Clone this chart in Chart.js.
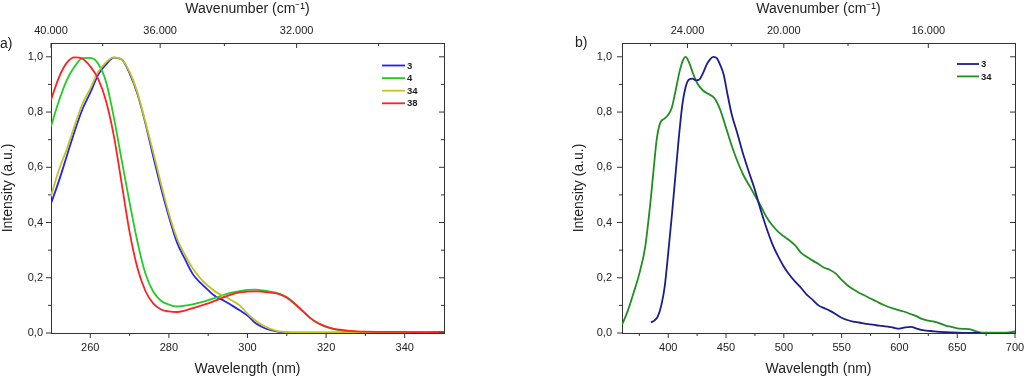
<!DOCTYPE html>
<html>
<head>
<meta charset="utf-8">
<script src="https://cdn.jsdelivr.net/npm/chart.js@4.4.1/dist/chart.umd.min.js"></script>
<style>
  html, body { margin: 0; padding: 0; background: #fff; }
  #wrap { position: relative; width: 1024px; height: 378px; overflow: hidden; }
  canvas { position: absolute; top: 0; }
</style>
</head>
<body>
<div id="wrap">
  <canvas id="chartA" width="512" height="378" style="left:0"></canvas>
  <canvas id="chartB" width="512" height="378" style="left:512px"></canvas>
</div>
<script>
// a) absorption spectra
const absWl = [250, 252, 254, 256, 258, 260, 262, 264, 266, 268, 270, 272, 274, 276, 278, 280, 282, 284, 286, 288, 290, 292, 294, 296, 298, 300, 302, 304, 306, 308, 310, 312, 314, 316, 318, 320, 322, 324, 326, 328, 330, 335, 340, 345, 350];
const absInt3 = [0.469, 0.55, 0.64, 0.73, 0.81, 0.87, 0.935, 0.972, 0.997, 0.99, 0.94, 0.865, 0.76, 0.64, 0.525, 0.421, 0.33, 0.27, 0.215, 0.182, 0.155, 0.131, 0.117, 0.1, 0.082, 0.063, 0.036, 0.02, 0.01, 0.004, 0.002, 0.001, 0.001, 0.001, 0.001, 0.001, 0.001, 0.001, 0.001, 0.001, 0.001, 0.001, 0.001, 0.001, 0.001];
const absInt4 = [0.748, 0.84, 0.915, 0.965, 0.995, 0.996, 0.975, 0.91, 0.78, 0.625, 0.472, 0.33, 0.216, 0.15, 0.117, 0.103, 0.096, 0.099, 0.104, 0.111, 0.119, 0.128, 0.138, 0.146, 0.152, 0.156, 0.157, 0.154, 0.149, 0.143, 0.13, 0.107, 0.08, 0.054, 0.035, 0.022, 0.014, 0.009, 0.006, 0.004, 0.003, 0.001, 0.001, 0.001, 0.001];
const absInt34 = [0.495, 0.59, 0.665, 0.75, 0.83, 0.885, 0.945, 0.98, 0.998, 0.99, 0.945, 0.87, 0.765, 0.655, 0.54, 0.433, 0.345, 0.285, 0.235, 0.198, 0.17, 0.148, 0.134, 0.118, 0.1, 0.07, 0.045, 0.027, 0.014, 0.006, 0.003, 0.001, 0.001, 0.001, 0.001, 0.001, 0.001, 0.001, 0.001, 0.001, 0.001, 0.001, 0.001, 0.001, 0.001];
const absInt38 = [0.844, 0.925, 0.978, 0.998, 0.993, 0.965, 0.92, 0.84, 0.713, 0.54, 0.365, 0.235, 0.153, 0.107, 0.085, 0.078, 0.076, 0.081, 0.09, 0.098, 0.107, 0.118, 0.13, 0.14, 0.147, 0.15, 0.151, 0.149, 0.146, 0.141, 0.128, 0.106, 0.08, 0.054, 0.035, 0.023, 0.015, 0.011, 0.008, 0.006, 0.005, 0.004, 0.004, 0.003, 0.004];

// b) emission spectra
const emWl3 = [385, 388, 391, 394, 397, 400, 403, 406, 409, 412, 415, 418, 421, 424, 427, 430, 433, 436, 439, 442, 445, 448, 451, 455, 460, 465, 470, 475, 480, 485, 490, 495, 500, 505, 510, 515, 520, 525, 530, 535, 540, 545, 550, 555, 560, 565, 570, 575, 580, 585, 590, 595, 600, 605, 610, 615, 620, 625, 630, 640, 650, 660, 670];
const emInt3 = [0.038, 0.045, 0.06, 0.1, 0.17, 0.29, 0.42, 0.56, 0.7, 0.82, 0.89, 0.918, 0.921, 0.915, 0.918, 0.94, 0.97, 0.99, 1.0, 0.995, 0.97, 0.935, 0.87, 0.79, 0.72, 0.645, 0.58, 0.518, 0.445, 0.38, 0.323, 0.278, 0.24, 0.21, 0.185, 0.163, 0.138, 0.12, 0.1, 0.09, 0.08, 0.068, 0.055, 0.047, 0.041, 0.038, 0.034, 0.031, 0.028, 0.026, 0.023, 0.019, 0.016, 0.02, 0.022, 0.016, 0.01, 0.008, 0.006, 0.003, 0.001, 0, 0];
const emWl34 = [360, 365, 370, 375, 380, 385, 388, 390, 393, 397, 400, 403, 406, 410, 413, 415, 418, 421, 425, 430, 435, 440, 445, 450, 455, 460, 465, 470, 475, 480, 485, 490, 495, 500, 505, 510, 515, 520, 525, 530, 535, 540, 545, 550, 555, 560, 565, 570, 575, 580, 585, 590, 595, 600, 605, 610, 615, 620, 625, 630, 635, 640, 645, 650, 655, 660, 665, 670, 675, 680, 690, 695, 700];
const emInt34 = [0.03, 0.08, 0.145, 0.215, 0.31, 0.49, 0.62, 0.7, 0.76, 0.777, 0.79, 0.815, 0.87, 0.95, 0.99, 1.0, 0.98, 0.945, 0.905, 0.878, 0.865, 0.85, 0.808, 0.743, 0.677, 0.62, 0.572, 0.535, 0.498, 0.46, 0.42, 0.39, 0.367, 0.35, 0.335, 0.316, 0.29, 0.275, 0.262, 0.25, 0.236, 0.228, 0.215, 0.192, 0.173, 0.158, 0.146, 0.136, 0.125, 0.115, 0.104, 0.095, 0.088, 0.082, 0.076, 0.068, 0.06, 0.05, 0.045, 0.041, 0.035, 0.027, 0.022, 0.017, 0.015, 0.014, 0.008, 0.002, 0.001, 0.001, 0.001, 0.002, 0.006];

// ejes
const absTicksX = [260, 280, 300, 320, 340];
const absMinorX = [270, 290, 310, 330];
const emTicksX = [400, 450, 500, 550, 600, 650, 700];
const emMinorX = [375, 425, 475, 525, 575, 625, 675];
const yTicks = [0, 0.2, 0.4, 0.6, 0.8, 1.0];
const yMinor = [0.1, 0.3, 0.5, 0.7, 0.9];
const absWavenumbers = [40000, 36000, 32000];
const absWnMinor = [38000, 34000, 30000];
const emWavenumbers = [24000, 20000, 16000];
const emWnMinor = [26000, 22000, 18000];

const FONT = "'Liberation Sans', Arial, sans-serif";
const INK = '#222';

function puntos(xs, ys) {
  return xs.map((x, i) => ({ x: x, y: ys[i] }));
}

function fmtWn(wn) {
  return (wn / 1000).toFixed(3); // 40000 -> "40.000"
}

// marcas de ejes (mayores y menores), leyenda y etiqueta del panel
const marcasPlugin = {
  id: 'marcas',
  afterDraw(chart, args, opts) {
    const { ctx, chartArea: a, scales } = chart;
    ctx.save();
    ctx.strokeStyle = '#333';
    ctx.lineWidth = 1;
    const line = (x1, y1, x2, y2) => {
      ctx.beginPath();
      ctx.moveTo(x1, y1);
      ctx.lineTo(x2, y2);
      ctx.stroke();
    };
    opts.xMajor.forEach((v) => { const x = scales.x.getPixelForValue(v); line(x, a.bottom, x, a.bottom + 5); });
    opts.xMinor.forEach((v) => { const x = scales.x.getPixelForValue(v); line(x, a.bottom, x, a.bottom + 3); });
    opts.wnMajor.forEach((w) => { const x = scales.x.getPixelForValue(1e7 / w); line(x, a.top, x, a.top + 5); });
    opts.wnMinor.forEach((w) => {
      const v = 1e7 / w;
      if (v < scales.x.min || v > scales.x.max) return;
      const x = scales.x.getPixelForValue(v);
      line(x, a.top, x, a.top + 3);
    });
    yTicks.forEach((v) => {
      const y = scales.y.getPixelForValue(v);
      line(a.left, y, a.left - 5, y);
      line(a.right, y, a.right - 5, y);
    });
    yMinor.forEach((v) => {
      const y = scales.y.getPixelForValue(v);
      line(a.left, y, a.left - 3, y);
      line(a.right, y, a.right - 3, y);
    });

    // leyenda
    const lg = opts.legend;
    ctx.font = 'bold 9.5px ' + FONT;
    ctx.textBaseline = 'middle';
    ctx.textAlign = 'left';
    chart.data.datasets.forEach((ds, i) => {
      const y = lg.y + i * lg.dy;
      ctx.strokeStyle = ds.borderColor;
      ctx.lineWidth = 1.8;
      line(lg.x, y, lg.x + lg.len, y);
      ctx.fillStyle = INK;
      ctx.fillText(ds.label, lg.x + lg.len + 2, y + 0.5);
    });

    // a) / b)
    ctx.font = '14px ' + FONT;
    ctx.fillStyle = INK;
    ctx.fillText(opts.panel.text, opts.panel.x, opts.panel.y);
    ctx.restore();
  },
};

function hacerGrafico(canvas, cfg) {
  const ejeComun = {
    type: 'linear',
    grid: { display: false, drawTicks: false },
    border: { display: true, color: '#333', width: 1 },
  };
  const titulo = (text) => ({
    display: true,
    text: text,
    color: INK,
    padding: 0,
    font: { family: FONT, size: 14 },
  });
  const tickFont = { family: FONT, size: 11 };

  return new Chart(canvas, {
    type: 'line',
    data: { datasets: cfg.datasets },
    options: {
      responsive: false,
      animation: false,
      events: [],
      layout: { padding: { left: cfg.padLeft, right: 0, top: 0, bottom: 0 } },
      elements: { point: { radius: 0 }, line: { borderWidth: 1.8, cubicInterpolationMode: 'monotone' } },
      plugins: {
        legend: { display: false },
        tooltip: { enabled: false },
        marcas: {
          xMajor: cfg.ticksX,
          xMinor: cfg.minorX,
          wnMajor: cfg.wn,
          wnMinor: cfg.wnMinor,
          legend: cfg.legend,
          panel: cfg.panel,
        },
      },
      scales: {
        x: {
          ...ejeComun,
          position: 'bottom',
          min: cfg.xMin,
          max: cfg.xMax,
          afterBuildTicks: (s) => { s.ticks = cfg.ticksX.map((v) => ({ value: v })); },
          afterFit: (s) => { s.height = 45; s.paddingLeft = 0; s.paddingRight = 0; },
          ticks: { color: INK, font: tickFont, padding: 8, maxRotation: 0, autoSkip: false },
          title: titulo('Wavelength (nm)'),
        },
        x2: {
          ...ejeComun,
          position: 'top',
          min: cfg.xMin,
          max: cfg.xMax,
          afterBuildTicks: (s) => { s.ticks = cfg.wn.map((w) => ({ value: 1e7 / w })); },
          afterFit: (s) => { s.height = 43; s.paddingLeft = 0; s.paddingRight = 0; },
          ticks: {
            color: INK, font: tickFont, padding: 5, maxRotation: 0, autoSkip: false,
            callback: (v, i) => fmtWn(cfg.wn[i]),
          },
          title: { ...titulo('Wavenumber (cm\u207B\u00B9)'), padding: { top: 1, bottom: 0 } },
        },
        y: {
          ...ejeComun,
          position: 'left',
          min: 0,
          max: 1.05,
          afterBuildTicks: (s) => { s.ticks = yTicks.map((v) => ({ value: v })); },
          afterFit: (s) => { s.width = 51; s.paddingTop = 0; s.paddingBottom = 0; },
          ticks: {
            color: INK, font: tickFont, padding: cfg.yPad,
            callback: (v) => v.toFixed(1).replace('.', ','),
          },
          title: titulo('Intensity (a.u.)'),
        },
        y2: {
          ...ejeComun,
          position: 'right',
          min: 0,
          max: 1.05,
          ticks: { display: false },
          afterFit: (s) => { s.width = cfg.rightW; s.paddingTop = 0; s.paddingBottom = 0; },
        },
      },
    },
    plugins: [marcasPlugin],
  });
}

hacerGrafico(document.getElementById('chartA'), {
  xMin: 250,
  xMax: 350,
  ticksX: absTicksX,
  minorX: absMinorX,
  wn: absWavenumbers,
  wnMinor: absWnMinor,
  padLeft: 0,
  yPad: 8,
  rightW: 68,
  legend: { x: 382, y: 65.5, dy: 12.6, len: 23 },
  panel: { text: 'a)', x: 0, y: 44 },
  datasets: [
    { label: '3', data: puntos(absWl, absInt3), borderColor: '#2222ff', order: 4 },
    { label: '4', data: puntos(absWl, absInt4), borderColor: '#22cc22', order: 3 },
    { label: '34', data: puntos(absWl, absInt34), borderColor: '#c4c41c', order: 2 },
    { label: '38', data: puntos(absWl, absInt38), borderColor: '#ff2222', order: 1 },
  ],
});

hacerGrafico(document.getElementById('chartB'), {
  xMin: 360,
  xMax: 700,
  ticksX: emTicksX,
  minorX: emMinorX,
  wn: emWavenumbers,
  wnMinor: emWnMinor,
  padLeft: 59,
  yPad: 10,
  rightW: 9,
  legend: { x: 445, y: 64, dy: 12.4, len: 22 },
  panel: { text: 'b)', x: 63, y: 43 },
  datasets: [
    { label: '3', data: puntos(emWl3, emInt3), borderColor: '#1c1c8e' },
    { label: '34', data: puntos(emWl34, emInt34), borderColor: '#1f8f1f' },
  ],
});
</script>
</body>
</html>
